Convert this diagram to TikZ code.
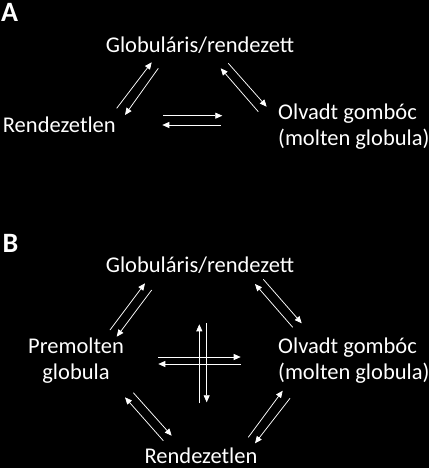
\documentclass[tikz,border=0pt]{standalone}
\usepackage{fontspec}
\setmainfont{Carlito}
\usetikzlibrary{arrows.meta}
\begin{document}
\begin{tikzpicture}[x=1pt,y=-1pt,
  lbl/.style={text=white,inner sep=0pt,font=\fontsize{22.5}{26}\selectfont},
  panel/.style={text=white,inner sep=0pt,font=\fontsize{28}{30}\selectfont\bfseries},
  arr/.style={draw=white,line width=0.75pt,-{Triangle[length=7pt,width=6pt]}}]
\fill[black] (0,0) rectangle (429,468);
\useasboundingbox (0,0) rectangle (429,468);
% Panel A
\node[panel,anchor=base west] (pA) at (1,22) {A};
\node[lbl,anchor=base] (gA) at (200,52.3) {Globuláris/rendezett};
\node[lbl,anchor=base west] (rA) at (2.7,132.7) {Rendezetlen};
\node[lbl,anchor=base west] (oA1) at (278,120) {Olvadt gombóc};
\node[lbl,anchor=base west] (oA2) at (278,146) {(molten globula)};
\coordinate (a1s) at (116.7,108.3); \coordinate (a1e) at (151.7,62.3);
\coordinate (a2s) at (158.3,68.3);  \coordinate (a2e) at (125,115);
\coordinate (a3s) at (258.3,111.7); \coordinate (a3e) at (220.7,68.3);
\coordinate (a4s) at (228.3,63.3);  \coordinate (a4e) at (266.7,106.7);
\coordinate (a5s) at (163.3,115.7); \coordinate (a5e) at (222.3,115.7);
\coordinate (a6s) at (220.7,125);   \coordinate (a6e) at (162.3,125);
\foreach \i in {1,...,6}{\draw[arr] (a\i s) -- (a\i e);}
% Panel B
\node[panel,anchor=base west] (pB) at (2.5,252.5) {B};
\node[lbl,anchor=base] (gB) at (200,272.3) {Globuláris/rendezett};
\node[lbl,anchor=base] (pB1) at (76,353.3) {Premolten};
\node[lbl,anchor=base] (pB2) at (76,379.3) {globula};
\node[lbl,anchor=base west] (oB1) at (278,353.3) {Olvadt gombóc};
\node[lbl,anchor=base west] (oB2) at (278,379.3) {(molten globula)};
\node[lbl,anchor=base] (rB) at (201,463) {Rendezetlen};
\coordinate (b1s) at (110,330);     \coordinate (b1e) at (145,283.3);
\coordinate (b2s) at (151.7,290);   \coordinate (b2e) at (116.7,336.7);
\coordinate (b3s) at (292.7,327.3); \coordinate (b3e) at (255,284);
\coordinate (b4s) at (263.3,279.3); \coordinate (b4e) at (301.7,323.3);
\coordinate (b5s) at (163.3,440.7); \coordinate (b5e) at (125,397.3);
\coordinate (b6s) at (133.3,392.7); \coordinate (b6e) at (171.7,435.7);
\coordinate (b7s) at (248.3,437.3); \coordinate (b7e) at (282.7,390.7);
\coordinate (b8s) at (290,398.3);   \coordinate (b8e) at (255,443.3);
\coordinate (b9s) at (199.3,403.3); \coordinate (b9e) at (199.3,324.3);
\coordinate (b10s) at (206.7,323.3); \coordinate (b10e) at (206.7,402.3);
\coordinate (b11s) at (158.3,357);  \coordinate (b11e) at (240.7,357);
\coordinate (b12s) at (241,364);    \coordinate (b12e) at (158.3,364);
\foreach \i in {1,...,12}{\draw[arr] (b\i s) -- (b\i e);}
\end{tikzpicture}
\end{document}
